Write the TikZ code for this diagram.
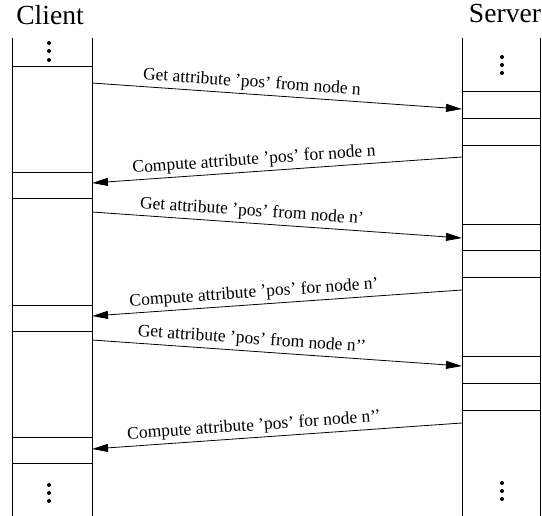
\documentclass[tikz,border=0pt]{standalone}
\usepackage{fontspec}
\setmainfont{Liberation Serif}
\usetikzlibrary{arrows.meta}
\begin{document}
\begin{tikzpicture}[x=1pt,y=-1pt,
  lifeline/.style={line width=0.8pt},
  slot/.style={line width=0.8pt},
  msg/.style={line width=0.8pt,-{Triangle[length=16pt,width=8pt]}},
  msglabel/.style={sloped,above,inner sep=3pt,font=\fontsize{17.5}{20}\selectfont},
  title/.style={anchor=base,font=\fontsize{27.6}{30}\selectfont,inner sep=0pt},
  vdot/.style={fill,circle,inner sep=0pt,minimum size=4pt}]
\useasboundingbox (0,0) rectangle (542,516);

% titles
\node[title] (client) at (50,25) {Client};
\node[title] (server) at (505,23) {Server};

% client lifeline
\draw[lifeline] (12,38) -- (12,516) (92,38) -- (92,516);
\foreach \y in {66,172,198,305,331,437,463}
  \draw[slot] (12,\y) -- (92,\y);

% server lifeline
\draw[lifeline] (462,38) -- (462,516) (540,38) -- (540,516);
\foreach \y in {91,118,145,224,250,277,356,383,410}
  \draw[slot] (462,\y) -- (540,\y);

% continuation dots
\foreach \x/\y [count=\i] in {49/43,49/51,49/60,502/57,502/65,502/73,49/485,49/493,49/501,502/483,502/491,502/499}
  \node[vdot] (d\i) at (\x,\y) {};

% message end points
\coordinate (c1) at (92,83);   \coordinate (s1) at (462,109);
\coordinate (s2) at (462,157); \coordinate (c2) at (92,183);
\coordinate (c3) at (92,212);  \coordinate (s3) at (462,238);
\coordinate (s4) at (462,290); \coordinate (c4) at (92,316);
\coordinate (c5) at (92,340);  \coordinate (s5) at (462,366);
\coordinate (s6) at (462,423); \coordinate (c6) at (92,449);

% messages
\draw[msg] (c1) -- node[msglabel,pos=0.43] (m1) {Get attribute 'pos' from node n} (s1);
\draw[msg] (s2) -- node[msglabel,pos=0.56] (m2) {Compute attribute 'pos' for node n} (c2);
\draw[msg] (c3) -- node[msglabel,pos=0.43] (m3) {Get attribute 'pos' from node n'} (s3);
\draw[msg] (s4) -- node[msglabel,pos=0.56] (m4) {Compute attribute 'pos' for node n'} (c4);
\draw[msg] (c5) -- node[msglabel,pos=0.43] (m5) {Get attribute 'pos' from node n'{}'} (s5);
\draw[msg] (s6) -- node[msglabel,pos=0.56] (m6) {Compute attribute 'pos' for node n'{}'} (c6);
\end{tikzpicture}
\end{document}
